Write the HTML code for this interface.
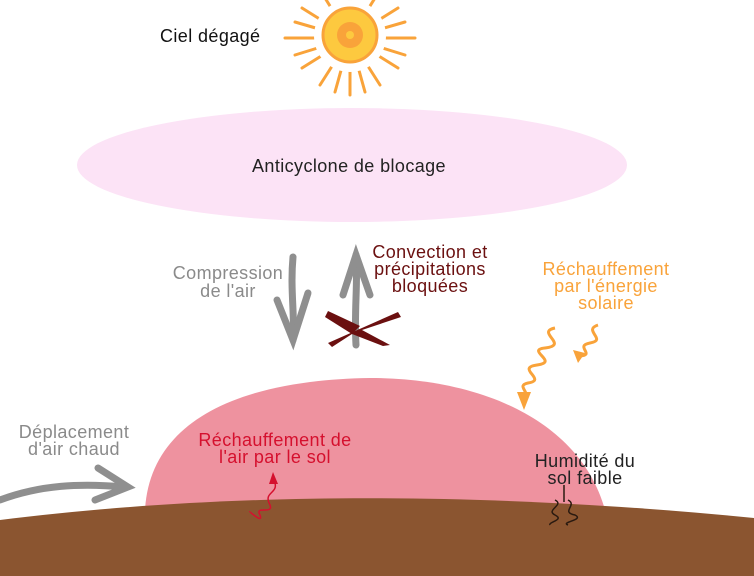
<!DOCTYPE html>
<html><head><meta charset="utf-8"><style>
body{margin:0;width:754px;height:576px;overflow:hidden;background:#fff}
svg{display:block}
text{font-family:"Liberation Sans",sans-serif;font-size:18px;letter-spacing:0.4px}
</style></head><body>
<svg width="754" height="576" viewBox="0 0 754 576">
<g stroke="#f9a33a" stroke-width="3" stroke-linecap="round">
<line x1="350" y1="38" x2="415" y2="38"/><line x1="350" y1="38" x2="285" y2="38"/>
<line x1="350" y1="38" x2="350" y2="95"/><line x1="350" y1="38" x2="350" y2="-15"/>
<line x1="350" y1="38" x2="398" y2="8"/><line x1="350" y1="38" x2="302" y2="68"/>
<line x1="350" y1="38" x2="398" y2="68"/><line x1="350" y1="38" x2="302" y2="8"/>
<line x1="350" y1="38" x2="380" y2="85"/><line x1="350" y1="38" x2="320" y2="85"/>
<line x1="350" y1="38" x2="380" y2="-10"/><line x1="350" y1="38" x2="320" y2="-10"/>
<line x1="350" y1="38" x2="405" y2="55"/><line x1="350" y1="38" x2="295" y2="55"/>
<line x1="350" y1="38" x2="405" y2="22"/><line x1="350" y1="38" x2="295" y2="22"/>
<line x1="350" y1="38" x2="365" y2="92"/><line x1="350" y1="38" x2="335" y2="92"/>
</g>
<circle cx="350" cy="36" r="36" fill="#fff"/>
<circle cx="350" cy="35" r="27" fill="#fdc93f" stroke="#f9a33a" stroke-width="3"/>
<circle cx="350" cy="35" r="13" fill="#f9a33a"/>
<circle cx="350" cy="35" r="4" fill="#fdc93f"/>
<text x="160" y="42" fill="#111">Ciel dégagé</text>
<ellipse cx="352" cy="165" rx="275" ry="57" fill="#fce3f6"/>
<text x="349" y="172" text-anchor="middle" fill="#222">Anticyclone de blocage</text>
<path d="M145 510 C150 420 240 380 370 378 C480 378 580 420 605 510 Z" fill="#ee929f"/>
<path d="M0 520 C200 495 450 488 754 518 L754 576 L0 576 Z" fill="#8b5530"/>
<g fill="none" stroke="#8f8f8f" stroke-width="7" stroke-linecap="round">
<path d="M293 257 C290 290 295 315 293 340"/>
<path d="M277 300 L293 340 L308 293"/>
<path d="M356 345 C354 310 358 285 356 255"/>
<path d="M343 295 L356 255 L370 295"/>
<path d="M0 500 C40 485 80 483 125 487"/>
<path d="M98 468 L128 487 L95 500"/>
</g>
<path d="M328 343 L398 312 L401 317 L362 330 L390 345 L383 346 L352 334 L332 347Z" fill="#6b1010"/>
<path d="M328 311 L360 326 L352 334 L325 317Z" fill="#6b1010"/>
<g fill="none" stroke="#f9a33a" stroke-width="3">
<path d="M555 328 C535 332 570 345 545 348 C525 350 560 362 537 365 C515 368 548 380 528 383 C515 386 532 392 524 400"/>
<path d="M598 325 C582 330 608 340 590 343 C574 346 596 355 580 356"/>
</g>
<path d="M517 392 L531 392 L524 410Z" fill="#f9a33a"/><path d="M573 350 L585 353 L578 363Z" fill="#f9a33a"/>
<path d="M273 478 C282 495 262 490 270 505 C274 515 254 505 260 515 C264 525 248 510 250 512" fill="none" stroke="#d5102e" stroke-width="1.5"/>
<path d="M269 484 L273 472 L278 484Z" fill="#d5102e"/>
<path d="M564 485 L564 502 M555 500 C565 505 545 510 555 515 C565 520 548 522 550 525 M568 500 C578 505 560 512 575 515 C585 520 560 522 568 525" stroke="#2a1a10" stroke-width="1.5" fill="none"/>
<text x="228" y="279" text-anchor="middle" fill="#8a8a8a">Compression</text>
<text x="228" y="297" text-anchor="middle" fill="#8a8a8a">de l'air</text>
<text x="430" y="258" text-anchor="middle" fill="#6b1010">Convection et</text>
<text x="430" y="275" text-anchor="middle" fill="#6b1010">précipitations</text>
<text x="430" y="292" text-anchor="middle" fill="#6b1010">bloquées</text>
<text x="606" y="275" text-anchor="middle" fill="#f9a33a">Réchauffement</text>
<text x="606" y="292" text-anchor="middle" fill="#f9a33a">par l'énergie</text>
<text x="606" y="309" text-anchor="middle" fill="#f9a33a">solaire</text>
<text x="74" y="438" text-anchor="middle" fill="#8a8a8a">Déplacement</text>
<text x="74" y="455" text-anchor="middle" fill="#8a8a8a">d'air chaud</text>
<text x="275" y="446" text-anchor="middle" fill="#d5102e">Réchauffement de</text>
<text x="275" y="463" text-anchor="middle" fill="#d5102e">l'air par le sol</text>
<text x="585" y="467" text-anchor="middle" fill="#222">Humidité du</text>
<text x="585" y="484" text-anchor="middle" fill="#222">sol faible</text>
</svg>
</body></html>
